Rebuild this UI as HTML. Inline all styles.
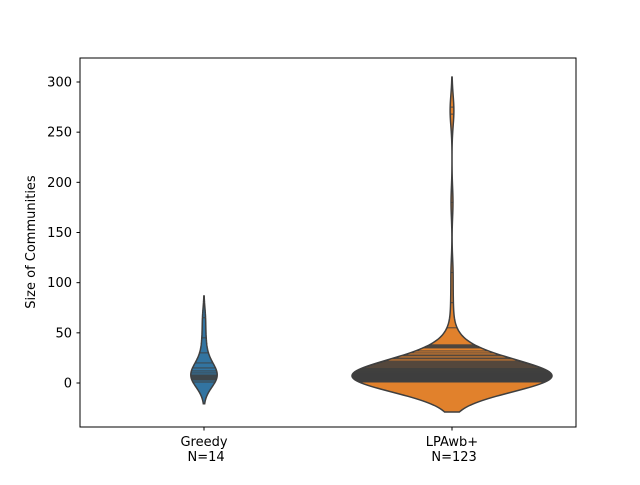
<!DOCTYPE html>
<html><head><meta charset="utf-8"><style>
body{margin:0;background:#fff;font-family:"Liberation Sans","DejaVu Sans",sans-serif}
svg text{font-family:"DejaVu Sans","Liberation Sans",sans-serif;font-size:13px;fill:#000;white-space:pre}
</style></head><body>
<svg id="chart" width="640" height="480" xmlns="http://www.w3.org/2000/svg">
<rect x="0" y="0" width="640" height="480" fill="#fff"/>
<g id="violins"></g>
<rect x="80" y="58" width="496" height="369" fill="none" stroke="#000" stroke-width="1"/>
<g id="axes"></g>
<text transform="translate(35,242) rotate(-90)" text-anchor="middle">Size of Communities</text>
</svg>
<script>
const categories = ["Greedy", "LPAwb+"];
const tickLabelsX = ["Greedy\n N=14", "LPAwb+\n N=123"];
const yTicks = [0, 50, 100, 150, 200, 250, 300];
const greedyValues = [1,3,4,5,6,7,8,10,12,15,20,30,45,65];
const lpaValues = [
1,1,1,1,1,1,1,1,1,1,1,1,1,1,1,
2,2,2,2,2,2,2,2,2,2,2,2,
3,3,3,3,3,3,3,3,3,3,
4,4,4,4,4,4,4,4,4,
5,5,5,5,5,5,5,5,
6,6,6,6,6,6,6,
7,7,7,7,7,7,
8,8,8,8,8,8,
9,9,9,9,9,
10,10,10,10,10,
11,11,11,11,12,12,12,12,
13,13,13,14,14,14,15,15,15,
16,17,18,19,20,21,22,24,25,27,28,30,32,35,36,37,
38,55,80,110,180,268,275];
const seriesList = [greedyValues, lpaValues];
const fills = ["#3274a1", "#e1812c"];

const NS = "http://www.w3.org/2000/svg";
const yPix = v => 383 - (v) * (301 / 300);
const xPix = i => 204 + i * 248;
function mk(tag, attrs, parent){const e=document.createElementNS(NS,tag);for(const k in attrs)e.setAttribute(k,attrs[k]);parent.appendChild(e);return e;}
function stats(a){const n=a.length;const m=a.reduce((s,v)=>s+v,0)/n;const sd=Math.sqrt(a.reduce((s,v)=>s+(v-m)*(v-m),0)/(n-1));return {n,bw:sd*Math.pow(n,-0.2)};}
function kde(a,bw,x){let s=0;for(const v of a){const z=(x-v)/bw;s+=Math.exp(-0.5*z*z);}return s/(a.length*bw*Math.sqrt(2*Math.PI));}

const prepared = seriesList.map(a=>{const st=stats(a);const lo=Math.min(...a)-2*st.bw,hi=Math.max(...a)+2*st.bw;const pts=[];for(let k=0;k<=300;k++){const v=lo+(hi-lo)*k/300;pts.push([v,kde(a,st.bw,v)*st.n]);}return {a,st,pts};});
let maxD=0;prepared.forEach(p=>p.pts.forEach(q=>{if(q[1]>maxD)maxD=q[1];}));
const maxHalf=100;
const gV=document.getElementById("violins");
prepared.forEach((p,i)=>{
  const cx=xPix(i);const sc=maxHalf/maxD;
  const g=mk("g",{},gV);
  
  
  let d="";p.pts.forEach((q,k)=>{d+=(k?"L":"M")+(cx+q[1]*sc).toFixed(2)+","+yPix(q[0]).toFixed(2);});
  for(let k=p.pts.length-1;k>=0;k--){const q=p.pts[k];d+="L"+(cx-q[1]*sc).toFixed(2)+","+yPix(q[0]).toFixed(2);}
  d+="Z";
  const body=mk("path",{d,fill:fills[i],stroke:"none"},g);
  
  
  p.a.forEach(v=>{const w=kde(p.a,p.st.bw,v)*p.st.n*sc;
    const st=mk("line",{x1:cx-w,x2:cx+w,y1:yPix(v),y2:yPix(v),stroke:"#3f3f3f","stroke-width":0.9},g);
    
    });
  const out=mk("path",{d,fill:"none",stroke:"#3f3f3f","stroke-width":1.5},g);
  
  
});
const ax=document.getElementById("axes");
yTicks.forEach(t=>{const y=yPix(t);
  const l=mk("line",{x1:76.5,x2:80,y1:y,y2:y,stroke:"#000"},ax);
  
  
  const tx=mk("text",{x:72,y:y+4.5,"text-anchor":"end"},ax);tx.textContent=t;
  
  });
tickLabelsX.forEach((lab,i)=>{const x=xPix(i);
  const l=mk("line",{x1:x,x2:x,y1:427,y2:430.5,stroke:"#000"},ax);
  
  
  lab.split("\n").forEach((s,j)=>{const tx=mk("text",{x:x,y:446+j*15,"text-anchor":"middle"},ax);tx.textContent=s;
    
    });});
</script>
</body></html>
